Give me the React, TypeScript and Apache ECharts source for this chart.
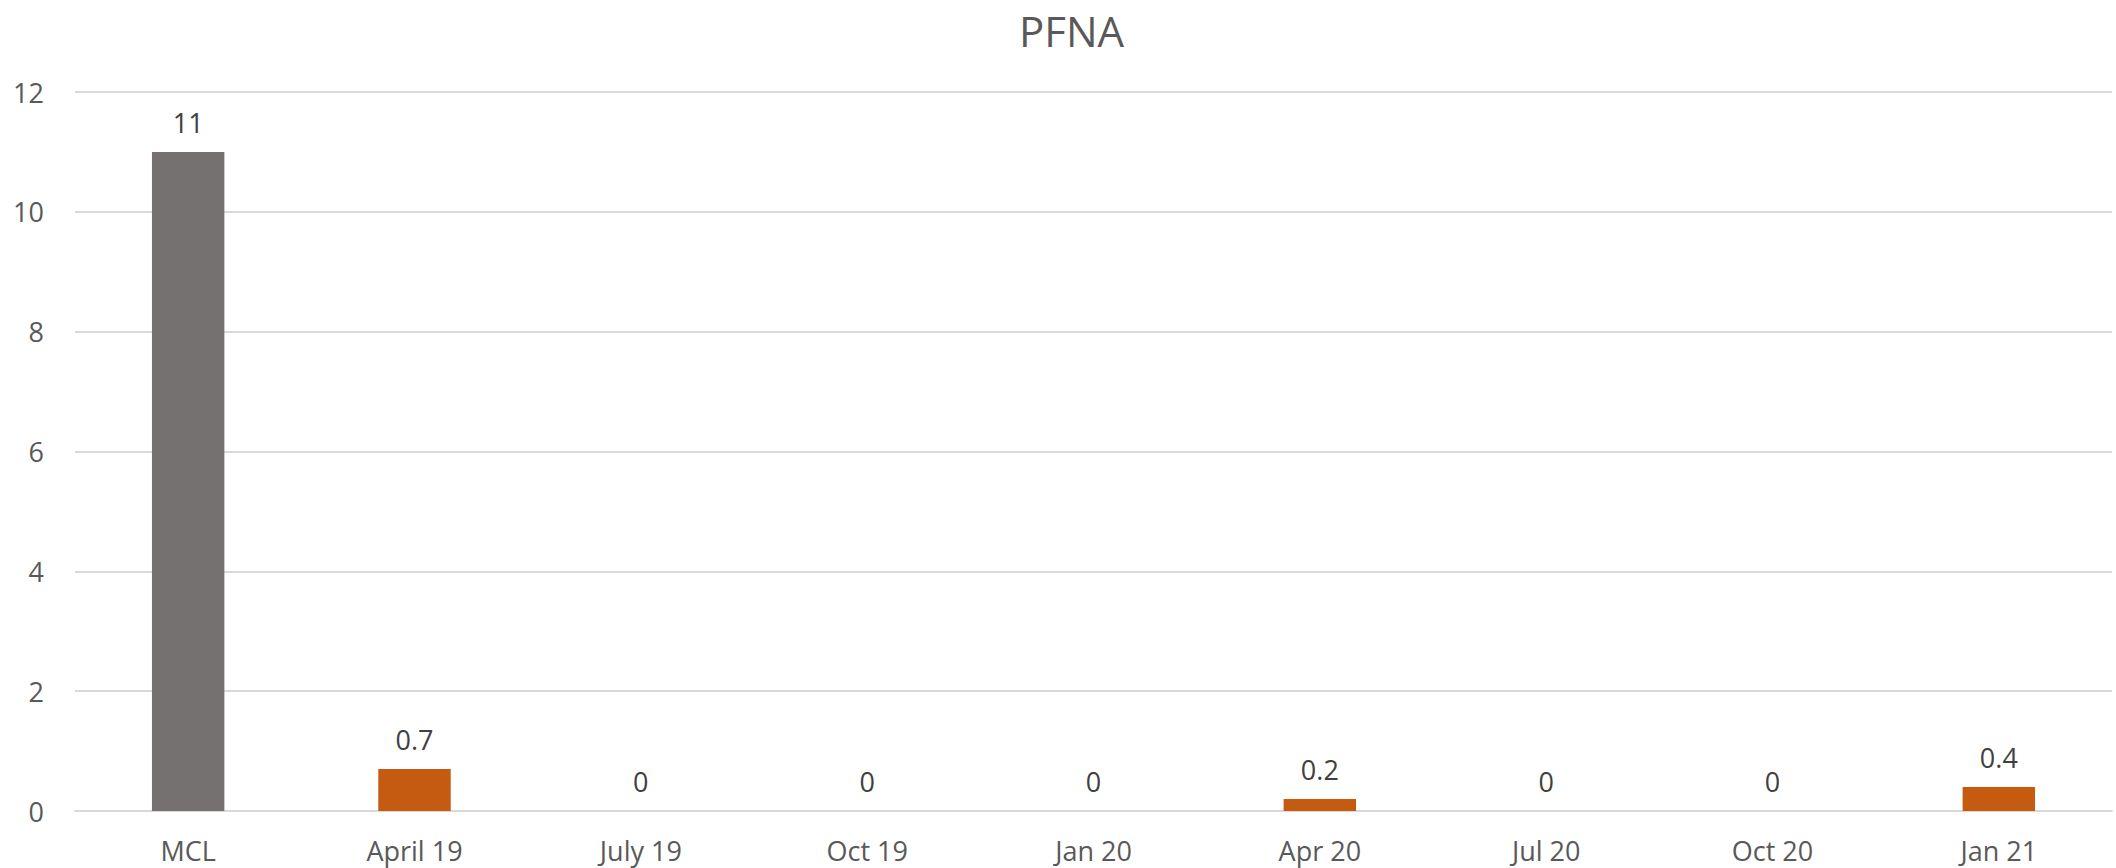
import React, { useEffect, useRef } from "react";
import * as echarts from "echarts";

const title = "PFNA";
const categories = ["MCL", "April 19", "July 19", "Oct 19", "Jan 20", "Apr 20", "Jul 20", "Oct 20", "Jan 21"];
const values = [11, 0.7, 0, 0, 0, 0.2, 0, 0, 0.4];
const barColors = ["#767171", "#C55A11", "#C55A11", "#C55A11", "#C55A11", "#C55A11", "#C55A11", "#C55A11", "#C55A11"];
const yTicks = { min: 0, max: 12, interval: 2 };

export default function App() {
  const ref = useRef<HTMLDivElement>(null);
  useEffect(() => {
    if (!ref.current) return;
    const chart = echarts.init(ref.current, undefined, { renderer: "svg" });
    const font = "'Open Sans', sans-serif";
    chart.setOption({
      animation: false,
      backgroundColor: "#ffffff",
      title: {
        text: title,
        left: 1014,
        top: 4,
        textStyle: { fontFamily: font, fontSize: 42, fontWeight: "normal", color: "#595959" },
      },
      grid: { left: 75, right: 4, top: 92, bottom: 57, containLabel: false },
      xAxis: {
        type: "category",
        data: categories,
        axisLine: { show: true, lineStyle: { color: "#D9D9D9", width: 2 } },
        axisTick: { show: false },
        axisLabel: { fontFamily: font, fontSize: 27, color: "#595959", margin: 26, interval: 0 },
      },
      yAxis: {
        type: "value",
        min: yTicks.min,
        max: yTicks.max,
        interval: yTicks.interval,
        axisLine: { show: false },
        axisTick: { show: false },
        splitLine: { lineStyle: { color: "#D9D9D9", width: 2 } },
        axisLabel: { fontFamily: font, fontSize: 27, color: "#595959", margin: 31 },
      },
      series: [
        {
          type: "bar",
          data: values.map((v, i) => ({ value: v, itemStyle: { color: barColors[i] } })),
          barWidth: "32%",
          label: {
            show: true,
            position: "top",
            distance: 16,
            fontFamily: font,
            fontSize: 27,
            color: "#404040",
          },
        },
      ],
    });
    return () => chart.dispose();
  }, []);
  return <div ref={ref} style={{ position: "fixed", left: 0, top: 0, width: 2116, height: 868 }} />;
}
